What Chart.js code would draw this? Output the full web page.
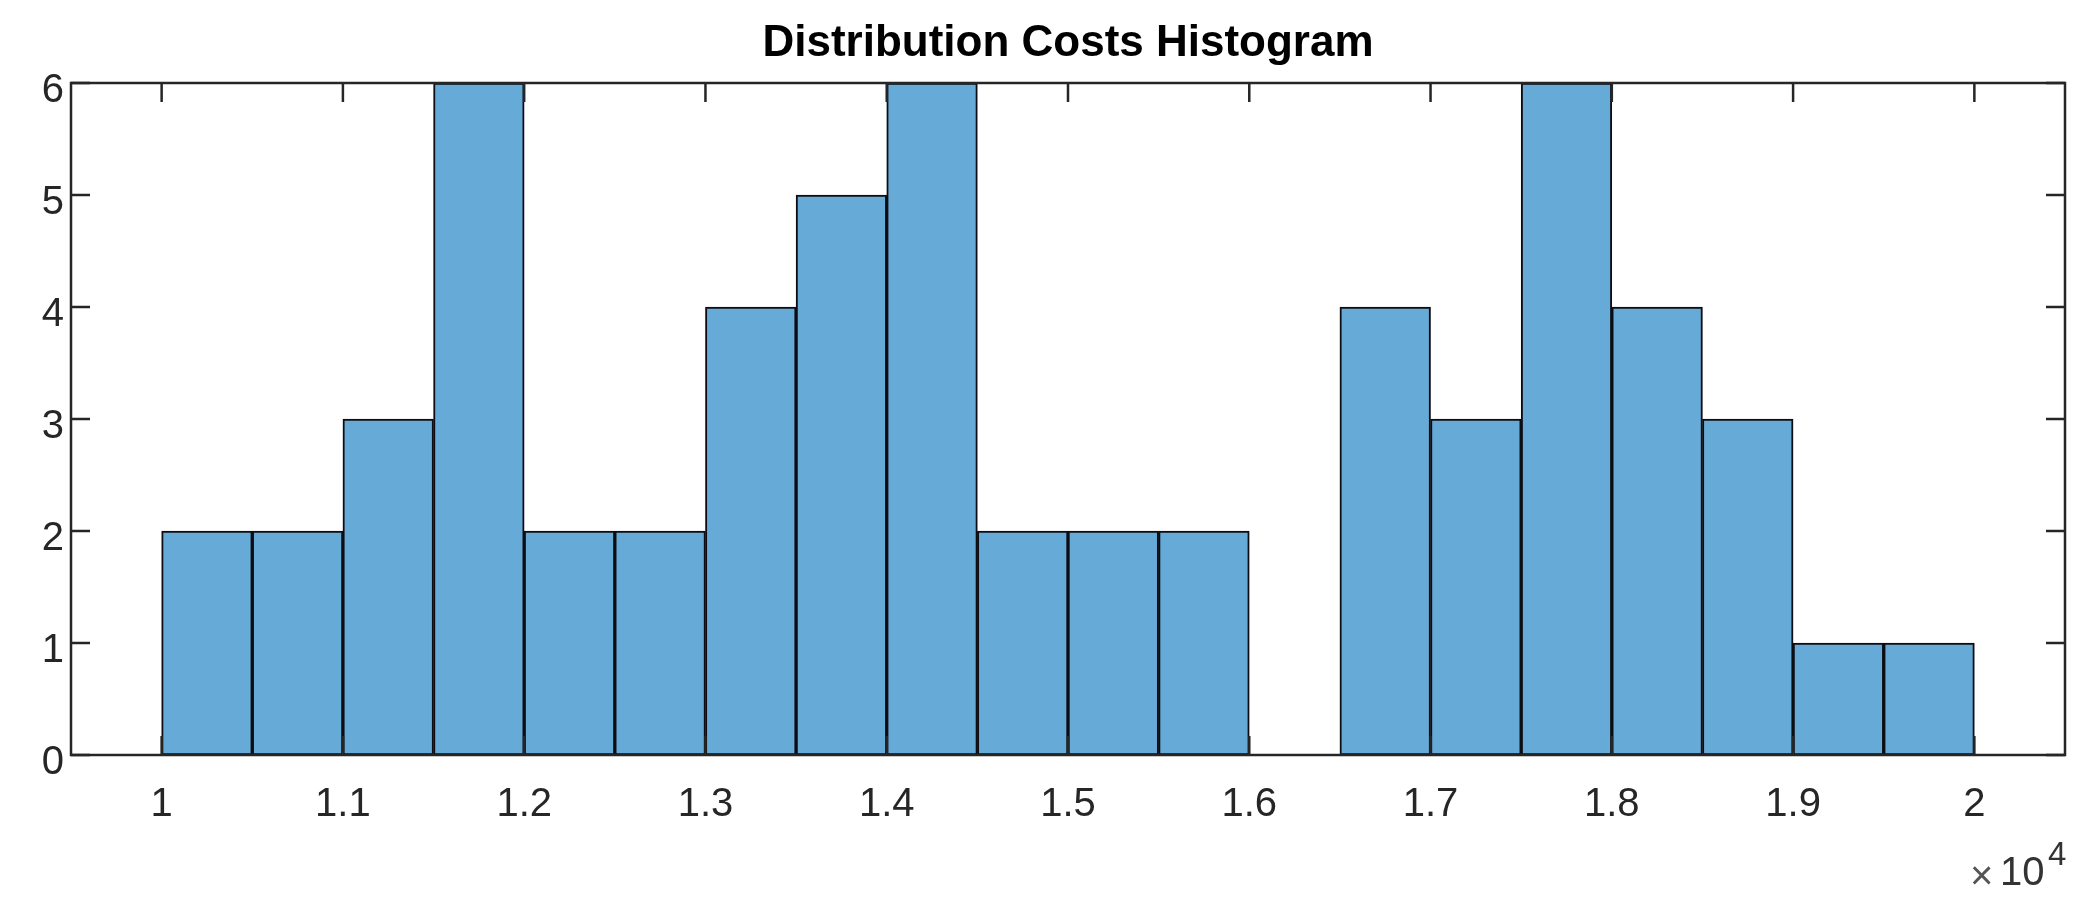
<!DOCTYPE html>
<html>
<head>
<meta charset="utf-8">
<title>Distribution Costs Histogram</title>
<script src="https://cdn.jsdelivr.net/npm/chart.js@4.4.1/dist/chart.umd.min.js"></script>
<style>
  html, body { margin: 0; padding: 0; background: #fff; }
  #wrap { width: 2096px; height: 916px; }
</style>
</head>
<body>
<div id="wrap"><canvas id="hist"></canvas></div>
<script>
// bin edges (cost) and how many items fell in each bin
const binEdges = [10000, 10500, 11000, 11500, 12000, 12500, 13000, 13500, 14000, 14500,
                  15000, 15500, 16000, 16500, 17000, 17500, 18000, 18500, 19000, 19500, 20000];
const binCounts = [2, 2, 3, 6, 2, 2, 4, 5, 6, 2, 2, 2, 0, 4, 3, 6, 4, 3, 1, 1];

// axis ticks, x labels are shown in units of 10^4
const xTickValues = [10000, 11000, 12000, 13000, 14000, 15000, 16000, 17000, 18000, 19000, 20000];
const xTickLabels = ['1', '1.1', '1.2', '1.3', '1.4', '1.5', '1.6', '1.7', '1.8', '1.9', '2'];
const yTickValues = [0, 1, 2, 3, 4, 5, 6];

const axisColor = '#262626';
const fontFamily = '"Liberation Sans", Arial, Helvetica, sans-serif';

// bars sit on the bin centres, the linear scale gives them a width of one bin
const histData = binCounts.map((c, i) => ({ x: (binEdges[i] + binEdges[i + 1]) / 2, y: c }));

// MATLAB style box with inward ticks on all four sides
const boxAxes = {
  id: 'boxAxes',
  afterDatasetsDraw(chart) {
    const { ctx, chartArea: a, scales: { x, y } } = chart;
    const len = 19;
    ctx.save();
    ctx.strokeStyle = axisColor;
    ctx.lineWidth = 2.5;
    ctx.strokeRect(a.left, a.top, a.right - a.left, a.bottom - a.top);
    ctx.lineWidth = 2.5;
    ctx.beginPath();
    x.ticks.forEach(t => {
      const px = x.getPixelForValue(t.value);
      ctx.moveTo(px, a.bottom); ctx.lineTo(px, a.bottom - len);
      ctx.moveTo(px, a.top); ctx.lineTo(px, a.top + len);
    });
    y.ticks.forEach(t => {
      const py = y.getPixelForValue(t.value);
      ctx.moveTo(a.left, py); ctx.lineTo(a.left + len, py);
      ctx.moveTo(a.right, py); ctx.lineTo(a.right - len, py);
    });
    ctx.stroke();
    ctx.restore();
  },
  afterDraw(chart) {
    // exponent label under the right end of the x axis
    const { ctx, chartArea: a } = chart;
    ctx.save();
    ctx.textAlign = 'left';
    ctx.textBaseline = 'alphabetic';
    ctx.font = '40px ' + fontFamily;
    ctx.fillStyle = '#555';
    ctx.fillText('\u00d7', a.right - 95, a.bottom + 134);
    ctx.fillStyle = '#333';
    ctx.fillText('10', a.right - 65, a.bottom + 130);
    ctx.font = '33px ' + fontFamily;
    ctx.fillText('4', a.right - 17, a.bottom + 110);
    ctx.restore();
  }
};

new Chart(document.getElementById('hist'), {
  type: 'bar',
  data: {
    datasets: [{
      data: histData,
      backgroundColor: 'rgb(102, 170, 215)',
      borderColor: '#0d0d14',
      borderWidth: 2,
      borderSkipped: false,
      barPercentage: 1,
      categoryPercentage: 1
    }]
  },
  options: {
    responsive: true,
    maintainAspectRatio: false,
    animation: false,
    layout: { padding: { left: 0, right: 31, top: 0, bottom: 0 } },
    plugins: {
      legend: { display: false },
      tooltip: { enabled: false },
      title: {
        display: true,
        fullSize: false, // centre over the axes, not the whole canvas
        text: 'Distribution Costs Histogram',
        color: '#000',
        font: { family: fontFamily, size: 44, weight: 'bold', lineHeight: 1.2 },
        padding: { top: 17, bottom: 13.2 }
      }
    },
    scales: {
      x: {
        type: 'linear',
        min: 9500,
        max: 20500,
        offset: false,
        grid: { display: false, drawTicks: false, offset: false },
        border: { display: false },
        afterBuildTicks: s => { s.ticks = xTickValues.map(v => ({ value: v })); },
        afterFit: s => { s.height = 161; },
        ticks: {
          autoSkip: false,
          maxRotation: 0,
          padding: 26,
          color: axisColor,
          font: { family: fontFamily, size: 40 },
          callback: (v, i) => xTickLabels[i]
        }
      },
      y: {
        min: 0,
        max: 6,
        grid: { display: false, drawTicks: false },
        border: { display: false },
        afterBuildTicks: s => { s.ticks = yTickValues.map(v => ({ value: v })); },
        afterFit: s => { s.width = 71; },
        ticks: {
          padding: 7,
          labelOffset: 8,
          color: axisColor,
          font: { family: fontFamily, size: 40 },
          callback: v => String(v)
        }
      }
    }
  },
  plugins: [boxAxes]
});
</script>
</body>
</html>
